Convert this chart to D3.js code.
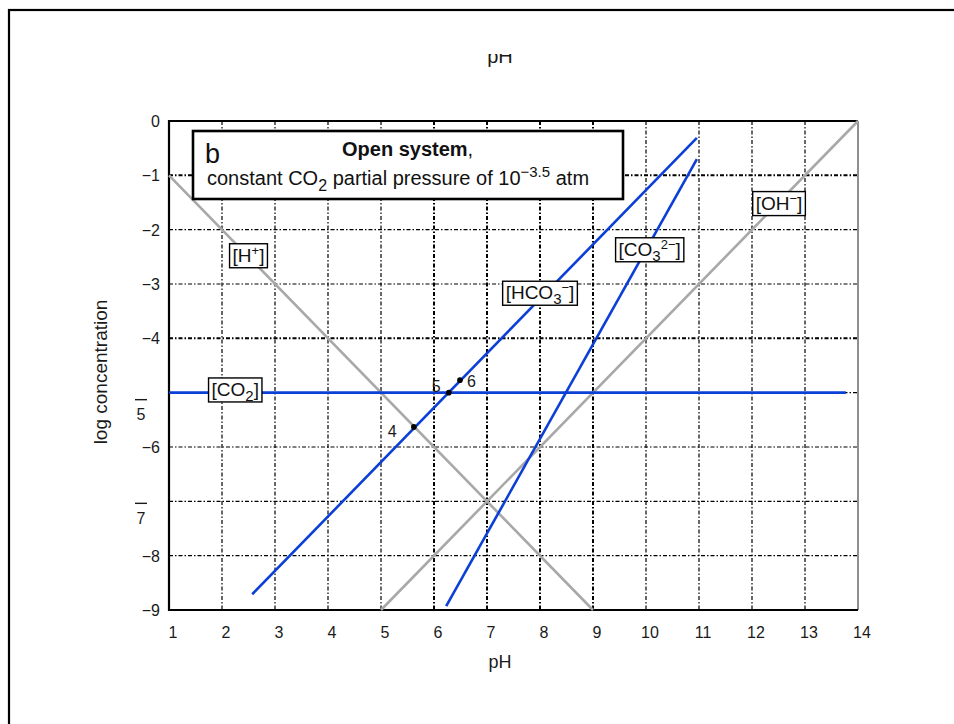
<!DOCTYPE html>
<html><head><meta charset="utf-8">
<script src="https://cdn.jsdelivr.net/npm/d3@7"></script>
<style>body{margin:0;background:#fff}svg{display:block;font-family:"Liberation Sans",Arial,sans-serif}</style>
</head><body>
<svg id="c" width="954" height="724"></svg>
<script>
// ---- data ----
const xTicks = [1,2,3,4,5,6,7,8,9,10,11,12,13,14];
const yTicks = [0,-1,-2,-3,-4,-5,-6,-7,-8,-9];
const hLine   = [[1,-1],[9,-9]];              // [H+]
const ohLine  = [[5,-9],[14,0]];              // [OH-]
const co2Line = [[1,-5],[13.77,-5]];          // [CO2]
const hco3Line= [[2.57,-8.71],[10.96,-0.31]]; // [HCO3-]
const co3Line = [[6.23,-8.93],[10.96,-0.70]]; // [CO3 2-]
const points  = [[5.62,-5.63,"4"],[6.28,-5.0,"5"],[6.49,-4.77,"6"]];
const labels  = [
  {pH:2.5,  v:-2.48, parts:[["[H",0],["+",1],["]",0]]},
  {pH:2.25, v:-4.95, parts:[["[CO",0],["2",-1],["]",0]]},
  {pH:8.0,  v:-3.17, parts:[["[HCO",0],["3",-1],["−",1],["]",0]]},
  {pH:10.07,v:-2.37, parts:[["[CO",0],["3",-1],["2−",1],["]",0]]},
  {pH:12.51,v:-1.52, parts:[["[OH",0],["−",1],["]",0]]}
];

const svg = d3.select("#c");
const x = d3.scaleLinear().domain([1,14]).range([169,858]);
const y = d3.scaleLinear().domain([0,-9]).range([121,610]);
const blue = "#0b3fd6", gray = "#a8a8a8", ink = "#1a1a1a";

// outer frame
svg.append("rect").attr("x",9).attr("y",10).attr("width",1000).attr("height",1000)
  .attr("fill","none").attr("stroke","#000").attr("stroke-width",2.2);

// clipped top "pH"
svg.append("clipPath").attr("id","topclip").append("rect").attr("x",440).attr("y",54).attr("width",120).attr("height",20);
svg.append("text").attr("x",500).attr("y",63).attr("text-anchor","middle").attr("font-size",20)
  .attr("clip-path","url(#topclip)").attr("fill",ink).text("pH");

// grid
const heavyX = [6,7,8,9], heavyY = [-1,-4];
svg.append("g").selectAll("line").data(xTicks.slice(1,-1)).join("line")
  .attr("x1",d=>x(d)).attr("x2",d=>x(d)).attr("y1",y(0)).attr("y2",y(-9))
  .attr("stroke","#000").attr("stroke-width",d=>heavyX.includes(d)?2:1.2)
  .attr("stroke-dasharray","4,2,1.5,2");
svg.append("g").selectAll("line").data(yTicks.slice(1,-1)).join("line")
  .attr("x1",x(1)).attr("x2",x(14)).attr("y1",d=>y(d)).attr("y2",d=>y(d))
  .attr("stroke","#000").attr("stroke-width",d=>heavyY.includes(d)?2:1.2)
  .attr("stroke-dasharray","4,2,1.5,2");

// plot frame
svg.append("line").attr("x1",x(14)).attr("x2",x(14)).attr("y1",y(0)).attr("y2",y(-9)).attr("stroke","#444").attr("stroke-width",1.2);
svg.append("path").attr("d",`M${x(14)},${y(0)}H${x(1)}V${y(-9)}H${x(14)}`)
  .attr("fill","none").attr("stroke","#000").attr("stroke-width",2.2);

// lines
const line = d3.line().x(d=>x(d[0])).y(d=>y(d[1]));
[[hLine,gray],[ohLine,gray],[co2Line,blue],[hco3Line,blue],[co3Line,blue]].forEach(([d,c])=>{
  svg.append("path").attr("d",line(d)).attr("fill","none").attr("stroke",c).attr("stroke-width",2.6);
});

// points
svg.append("g").selectAll("circle").data(points).join("circle")
  .attr("cx",d=>x(d[0])).attr("cy",d=>y(d[1])).attr("r",2.8).attr("fill","#000");
const ptOff = {"4":[-26,10],"5":[-17,-1],"6":[7,7]};
svg.append("g").selectAll("text").data(points).join("text")
  .attr("x",d=>x(d[0])+ptOff[d[2]][0]).attr("y",d=>y(d[1])+ptOff[d[2]][1])
  .attr("font-size",16).attr("fill",ink).text(d=>d[2]);

// species labels
labels.forEach(l=>{
  const g = svg.append("g");
  const t = g.append("text").attr("x",x(l.pH)).attr("y",y(l.v)+6).attr("text-anchor","middle")
    .attr("font-size",19).attr("fill","#111");
  let cum = 0;
  l.parts.forEach(([s,sh])=>{
    const ts = t.append("tspan").text(s);
    if(sh===1){ ts.attr("font-size",13).attr("dy",-7-cum); cum=-7; }
    else if(sh===-1){ ts.attr("font-size",15).attr("dy",5-cum); cum=5; }
    else if(cum!==0){ ts.attr("dy",-cum); cum=0; }
  });
  const bb = t.node().getBBox();
  g.insert("rect","text").attr("x",bb.x-3).attr("y",y(l.v)-12).attr("width",bb.width+6).attr("height",24)
    .attr("fill","#fff").attr("stroke","#000").attr("stroke-width",1.4);
});

// title box
svg.append("rect").attr("x",193).attr("y",131).attr("width",430).attr("height",68)
  .attr("fill","#fff").attr("stroke","#000").attr("stroke-width",2.6);
svg.append("text").attr("x",205).attr("y",163).attr("font-size",27).attr("fill","#111").text("b");
const t1 = svg.append("text").attr("x",342).attr("y",156).attr("font-size",20).attr("fill","#111");
t1.append("tspan").attr("font-weight","bold").text("Open system");
t1.append("tspan").text(",");
const t2 = svg.append("text").attr("x",207).attr("y",185).attr("font-size",20).attr("fill","#111");
t2.append("tspan").text("constant CO");
t2.append("tspan").attr("font-size",16).attr("dy",6).text("2");
t2.append("tspan").attr("dy",-6).text(" partial pressure of 10");
t2.append("tspan").attr("font-size",15).attr("dy",-8).text("−3.5");
t2.append("tspan").attr("dy",8).text(" atm");

// x tick labels
svg.append("g").selectAll("text").data(xTicks).join("text")
  .attr("x",d=>x(d)+4).attr("y",638).attr("text-anchor","middle").attr("font-size",16).attr("fill",ink)
  .text(d=>d);
svg.append("text").attr("x",500).attr("y",668).attr("text-anchor","middle").attr("font-size",18).attr("fill",ink).text("pH");

// y tick labels (−5 and −7 drawn with a displaced minus, as in the source)
const oddOff = {"-5":[7,27],"-7":[2,23]};
svg.append("g").selectAll("text").data(yTicks.filter(d=>!(d in oddOff))).join("text")
  .attr("x",160).attr("y",d=>y(d)+6).attr("text-anchor","end").attr("font-size",16).attr("fill",ink)
  .text(d=>d===0?"0":"−"+Math.abs(d));
[-5,-7].forEach(d=>{
  const o = oddOff[d];
  svg.append("line").attr("x1",135).attr("x2",147).attr("y1",y(d)+o[0]).attr("y2",y(d)+o[0]).attr("stroke",ink).attr("stroke-width",1.4);
  svg.append("text").attr("x",141).attr("y",y(d)+o[1]).attr("text-anchor","middle").attr("font-size",16).attr("fill",ink).text(Math.abs(d));
});
svg.append("text").attr("transform","translate(107,372) rotate(-90)").attr("text-anchor","middle")
  .attr("font-size",19).attr("fill",ink).text("log concentration");
</script>
</body></html>
